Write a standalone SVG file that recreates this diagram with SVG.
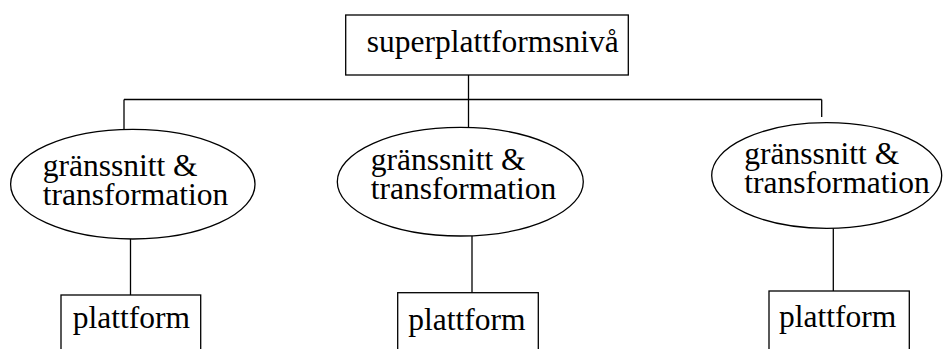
<svg xmlns="http://www.w3.org/2000/svg" width="943" height="349" viewBox="0 0 943 349">
<style>
.shape{fill:#fff;stroke:#000;stroke-width:1.3}
.conn{fill:none;stroke:#000;stroke-width:1.3}
text{font-family:"Liberation Serif","Times New Roman",serif;font-size:31.5px;fill:#000}
</style>
<rect width="943" height="349" fill="#fff"/>
<g id="connectors">
<line class="conn" x1="468.5" y1="75" x2="468.5" y2="127.5"/>
<line class="conn" x1="124" y1="99.5" x2="821.7" y2="99.5"/>
<line class="conn" x1="124" y1="99.5" x2="124" y2="129.5"/>
<line class="conn" x1="821.7" y1="99.5" x2="821.7" y2="117"/>
<line class="conn" x1="130.5" y1="239" x2="130.5" y2="295"/>
<line class="conn" x1="472" y1="236" x2="472" y2="292.7"/>
<line class="conn" x1="833.3" y1="228.3" x2="833.3" y2="291"/>
</g>
<g id="super">
<rect class="shape" x="345.7" y="15" width="282.6" height="60"/>
<text x="366.7" y="52.3">superplattformsnivå</text>
</g>
<g id="gt1">
<ellipse class="shape" cx="132.8" cy="184.2" rx="122.2" ry="54.8"/>
<text x="42.7" y="176">gränssnitt &amp;</text>
<text x="42.7" y="205">transformation</text>
</g>
<g id="gt2">
<ellipse class="shape" cx="460.3" cy="181.7" rx="123" ry="54.3"/>
<text x="370.7" y="170">gränssnitt &amp;</text>
<text x="370.7" y="199">transformation</text>
</g>
<g id="gt3">
<ellipse class="shape" cx="826.7" cy="175.5" rx="115" ry="52.8"/>
<text x="744.3" y="164.3">gränssnitt &amp;</text>
<text x="744.3" y="193.3">transformation</text>
</g>
<g id="p1">
<rect class="shape" x="61" y="295" width="139.7" height="70"/>
<text x="72.7" y="328.3">plattform</text>
</g>
<g id="p2">
<rect class="shape" x="397.7" y="292.7" width="140.6" height="70"/>
<text x="408.3" y="330">plattform</text>
</g>
<g id="p3">
<rect class="shape" x="769" y="291" width="140.3" height="70"/>
<text x="779" y="327">plattform</text>
</g>
</svg>
